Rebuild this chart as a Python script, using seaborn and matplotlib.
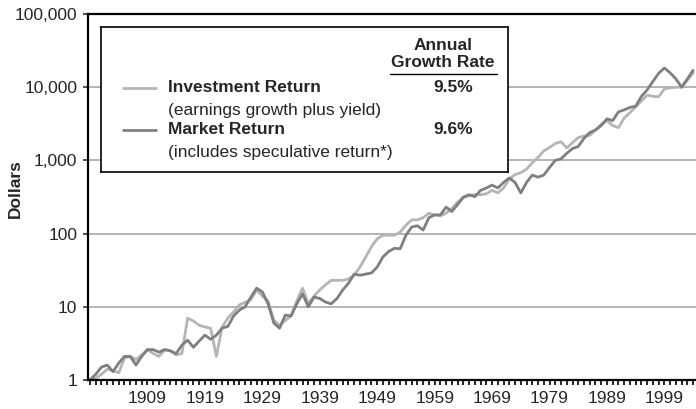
import matplotlib
matplotlib.use("Agg")
import matplotlib.pyplot as plt
import matplotlib.ticker as mticker
import numpy as np
import pandas as pd
import seaborn as sns

# values, $1 invested at the end of 1899
years = list(range(1899, 2005))

investment = [
    1.0, 1.05, 1.2, 1.4, 1.35, 1.25, 2.0, 2.1, 1.9, 2.2,
    2.6, 2.3, 2.1, 2.6, 2.5, 2.2, 2.3, 7.0, 6.4, 5.6,
    5.3, 5.1, 2.1, 5.3, 7.0, 8.5, 10.6, 11.5, 12.5, 17,
    14, 12, 6.5, 5.6, 6.5, 7.5, 12, 18, 11, 14,
    17, 20, 23, 23, 23, 24, 27, 35, 48, 66,
    85, 95, 95, 95, 105, 130, 154, 154, 165, 190,
    180, 175, 190, 220, 270, 310, 330, 340, 340, 350,
    390, 360, 420, 560, 640, 680, 760, 930, 1100, 1350,
    1500, 1700, 1800, 1480, 1750, 2050, 2150, 2200, 2600, 3100,
    3500, 3000, 2800, 3800, 4500, 5400, 6500, 7800, 7500, 7400,
    9500, 9800, 10000, 10000, 12500, 15700,
]

market = [
    1.0, 1.2, 1.5, 1.6, 1.3, 1.7, 2.1, 2.1, 1.6, 2.1,
    2.6, 2.6, 2.4, 2.6, 2.5, 2.3, 3.0, 3.5, 2.8, 3.4,
    4.1, 3.6, 4.1, 5.1, 5.4, 7.5, 9.0, 10, 13.5, 18,
    16, 11, 6, 5.1, 7.7, 7.5, 11, 15, 10, 13.6,
    13, 11.6, 11, 13, 17, 21, 28, 27, 28, 29,
    35, 48, 57, 63, 62, 95, 123, 128, 112, 165,
    180, 180, 230, 200, 250, 315, 340, 320, 390, 420,
    460, 420, 500, 575, 500, 360, 500, 630, 590, 630,
    800, 1000, 1050, 1250, 1450, 1550, 2000, 2400, 2600, 3000,
    3700, 3500, 4600, 4900, 5300, 5500, 7500, 9200, 12000, 15500,
    18300, 15700, 13000, 10000, 13000, 17000,
]

series_names = ["Investment Return", "Market Return"]
rates = ["9.5%", "9.6%"]
notes = ["(earnings growth plus yield)", "(includes speculative return*)"]
colors = ["#b5b5b5", "#7f7f7f"]
label_years = list(range(1909, 2000, 10))
y_ticks = [1, 10, 100, 1000, 10000, 100000]

df = pd.DataFrame({
    "year": years * 2,
    "value": investment + market,
    "series": [series_names[0]] * len(years) + [series_names[1]] * len(years),
})

sns.set_style("white")
plt.rcParams["font.family"] = ["Liberation Sans", "DejaVu Sans"]

W, H = 696, 409
fig = plt.figure(figsize=(W / 100, H / 100), dpi=100)
ax = fig.add_axes([88 / W, 1 - 380 / H, (696 - 88) / W, (380 - 14) / H])

sns.lineplot(data=df, x="year", y="value", hue="series", palette=colors,
             linewidth=2.0, legend=False, ax=ax)

ax.set_yscale("log")
ax.set_ylim(1, 100000)
ax.set_xlim(1898.65, 2004.5)
ax.set_yticks(y_ticks)
ax.yaxis.set_major_formatter(mticker.FuncFormatter(lambda v, _: f"{int(round(v)):,}"))
ax.yaxis.set_minor_locator(mticker.NullLocator())
ax.set_xticks(label_years)
ax.set_xticklabels([str(y) for y in label_years])
ax.xaxis.set_minor_locator(mticker.MultipleLocator(1))

for v in y_ticks[1:-1]:
    ax.axhline(v, color="#a8a8a8", lw=1.2, zorder=0)

ax.tick_params(axis="y", which="major", direction="out", length=3.6, width=1.2,
               color="#333333", labelsize=12.5, pad=4, left=True)
ax.tick_params(axis="x", which="both", direction="out", length=3.6, width=1.2,
               color="black", labelsize=12.5, pad=4, bottom=True)
ax.set_xlabel("")
ax.set_ylabel("")
fig.text(15.5 / W, 1 - 189 / H, "Dollars", rotation=90, ha="center", va="center",
         fontsize=12.5, fontweight="bold")

for side in ["left", "top", "bottom"]:
    ax.spines[side].set_color("black")
    ax.spines[side].set_linewidth(1.6)
ax.spines["right"].set_visible(False)

# legend box drawn as a small axes in pixel coordinates
lx0, lx1, ly0, ly1 = 101, 508, 27, 172
lg = fig.add_axes([lx0 / W, 1 - ly1 / H, (lx1 - lx0) / W, (ly1 - ly0) / H])
lg.set_xlim(lx0, lx1)
lg.set_ylim(ly1, ly0)
lg.set_xticks([])
lg.set_yticks([])
lg.set_facecolor("white")
for s in lg.spines.values():
    s.set_color("black")
    s.set_linewidth(1.2)

fs = 12.5
for i, yy in enumerate([88, 130]):
    lg.plot([122, 157], [yy, yy], color=colors[i], lw=2.0, solid_capstyle="butt")
    lg.text(168, yy, series_names[i], fontsize=fs, fontweight="bold", va="center", ha="left")
    lg.text(168, yy + 22, notes[i], fontsize=fs, va="center", ha="left")
    lg.text(473, yy, rates[i], fontsize=fs, fontweight="bold", va="center", ha="right")
lg.text(443, 46, "Annual", fontsize=fs, fontweight="bold", va="center", ha="center")
lg.text(443, 63, "Growth Rate", fontsize=fs, fontweight="bold", va="center", ha="center")
lg.plot([390, 497], [74, 74], color="black", lw=1.0)

fig.savefig("out.png", dpi=100)
